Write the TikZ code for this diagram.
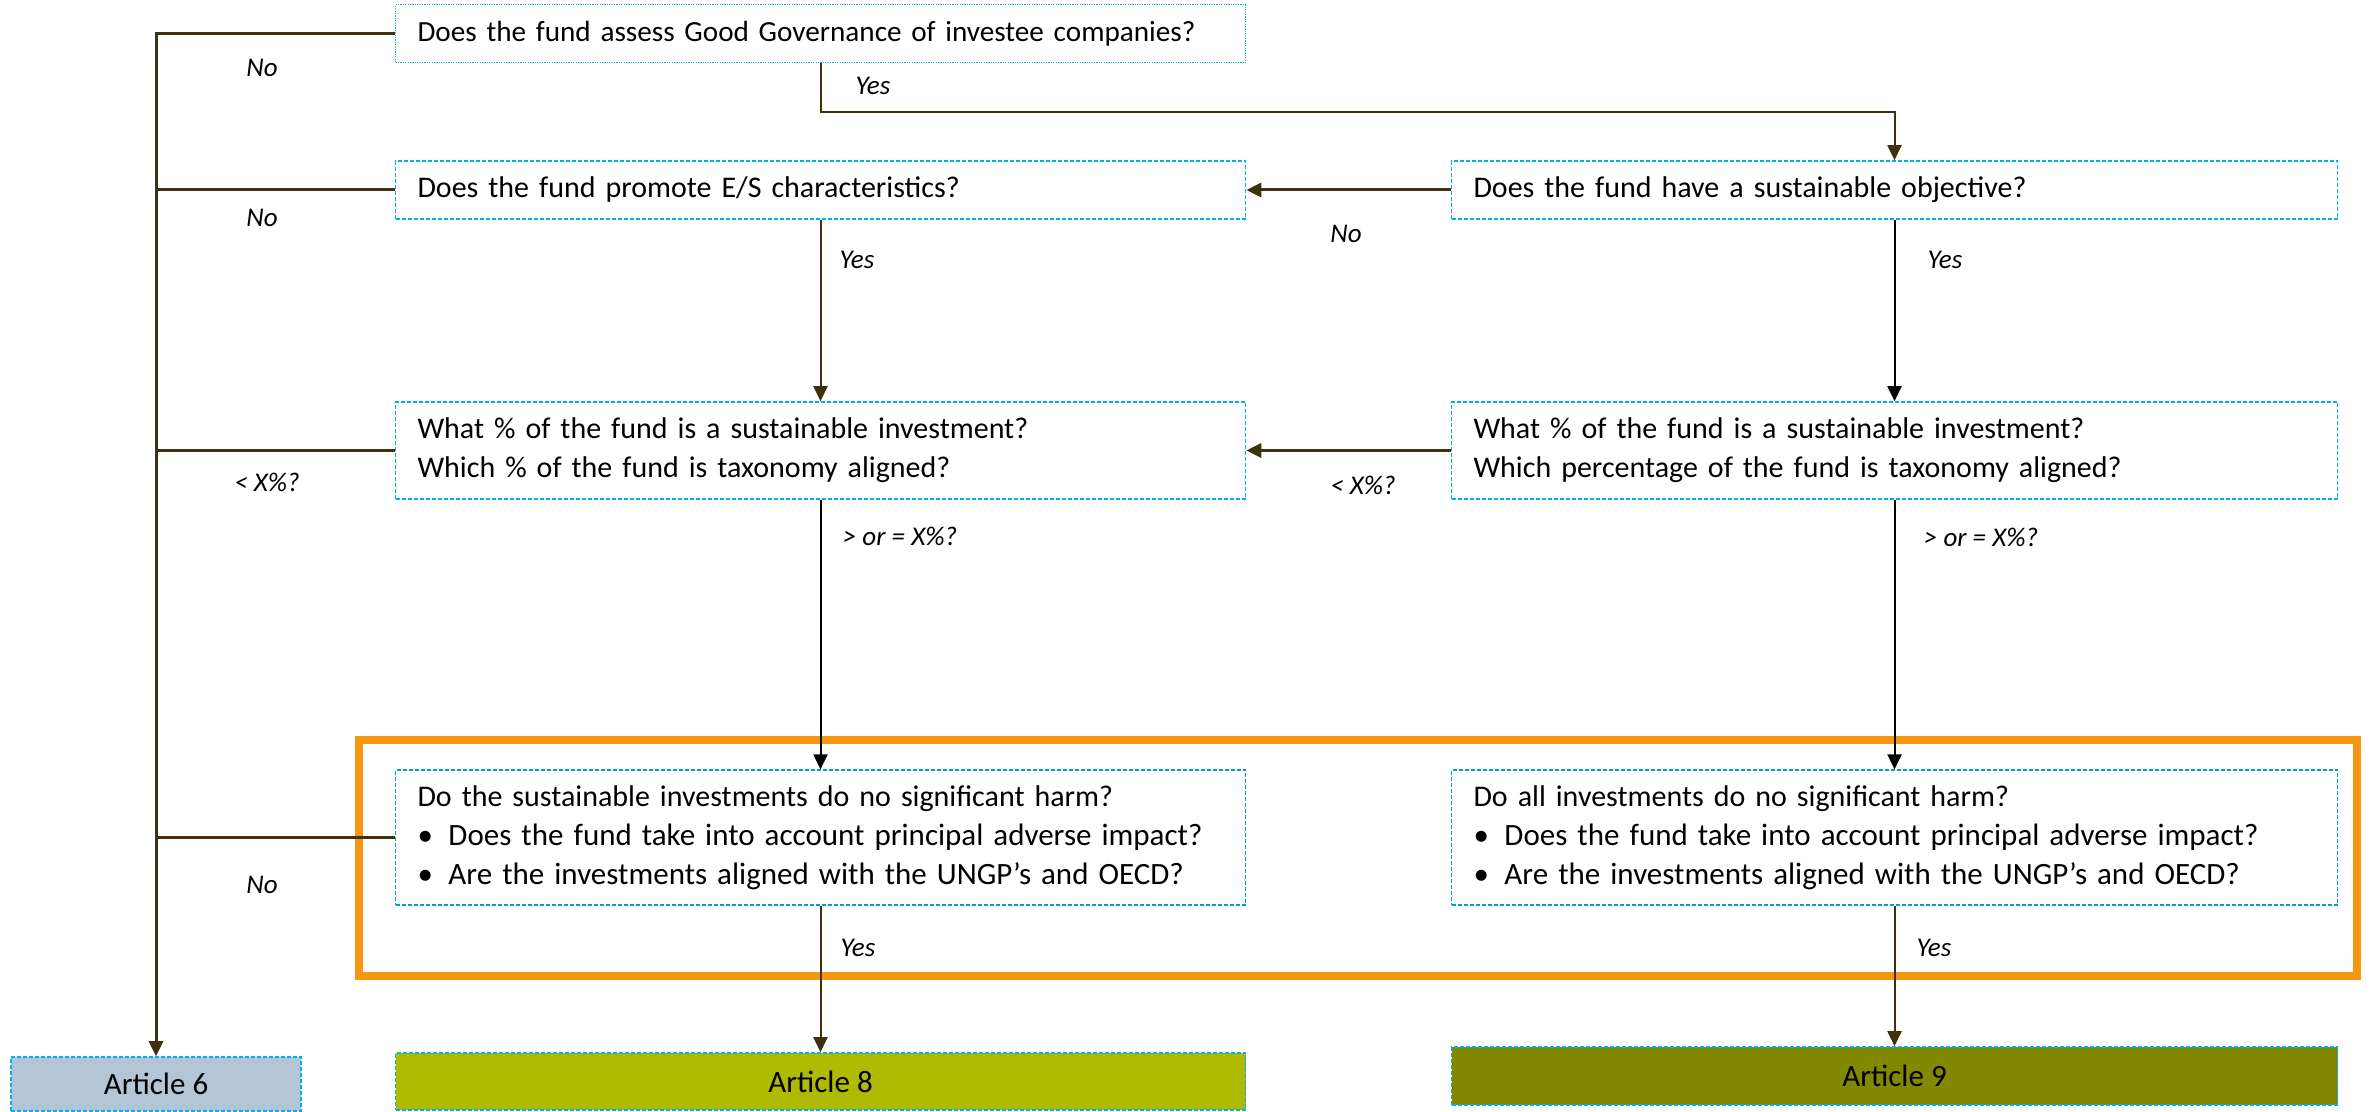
\documentclass[tikz,border=0pt]{standalone}
\usepackage{fontspec}
\setmainfont{Carlito}
\usetikzlibrary{arrows.meta,calc}
\definecolor{qblue}{RGB}{0,176,240}
\definecolor{qteal}{RGB}{0,160,198}
\definecolor{conbrown}{RGB}{64,48,16}
\definecolor{frameorange}{RGB}{247,150,17}
\definecolor{artsix}{RGB}{180,198,214}
\definecolor{arteight}{RGB}{174,187,0}
\definecolor{artnine}{RGB}{130,137,0}
\tikzset{
  qbox/.style={draw=qblue, line width=0.8pt, dash pattern=on 2pt off 1pt, fill=white,
    align=left, inner xsep=11pt, inner ysep=0pt, anchor=center,
    font=\fontsize{15pt}{19.5pt}\selectfont},
  dotbox/.style={qbox, dash pattern=on 0.6pt off 0.6pt, font=\fontsize{14.6pt}{19.5pt}\selectfont},
  dnshbox/.style={qbox, draw=qteal, dash pattern=on 2pt off 1pt},
  artbox/.style={draw=qblue, line width=0.8pt, dash pattern=on 2pt off 1pt,
    align=center, inner sep=0pt, font=\fontsize{15.5pt}{19pt}\selectfont},
  lbl/.style={font=\fontsize{13.5pt}{16pt}\selectfont\itshape, inner sep=0pt, anchor=center},
  thickcon/.style={draw=conbrown, line width=1.5pt},
  con/.style={draw=conbrown, line width=1pt},
  blackcon/.style={draw=black, line width=1pt},
  tip/.style={-{Triangle[length=7.5pt,width=7pt]}}
}
\newcommand{\bul}{\fontsize{15.5pt}{19.5pt}\selectfont\makebox[15.5pt][l]{\textbullet}}
\begin{document}
\begin{tikzpicture}[x=0.5pt,y=-0.5pt]
\useasboundingbox (0,0) rectangle (2371,1112);
% orange frame
\draw[draw=frameorange, line width=4pt] (359,740) rectangle (2357,976);
% question boxes
\node[dotbox, minimum width=425pt, minimum height=29pt, text width=403pt] (q1) at (820.5,33.7)
  {Does the fund assess Good Governance of investee companies?};
\node[qbox, minimum width=425pt, minimum height=29pt, text width=403pt] (q2) at (820.5,190)
  {Does the fund promote E/S characteristics?};
\node[qbox, minimum width=443pt, minimum height=29pt, text width=421pt] (q3) at (1894.5,190)
  {Does the fund have a sustainable objective?};
\node[qbox, minimum width=425pt, minimum height=48.5pt, text width=403pt] (q4) at (820.5,450.5)
  {What \% of the fund is a sustainable investment?\\Which \% of the fund is taxonomy aligned?};
\node[qbox, minimum width=443pt, minimum height=48.5pt, text width=421pt] (q5) at (1894.5,450.5)
  {What \% of the fund is a sustainable investment?\\Which percentage of the fund is taxonomy aligned?};
\node[dnshbox, minimum width=425pt, minimum height=67.5pt, text width=403pt] (q6) at (820.5,837.7)
  {Do the sustainable investments do no significant harm?\\\bul Does the fund take into account principal adverse impact?\\\bul Are the investments aligned with the UNGP’s and OECD?};
\node[dnshbox, minimum width=443pt, minimum height=67.5pt, text width=421pt] (q7) at (1894.5,837.7)
  {Do all investments do no significant harm?\\\bul Does the fund take into account principal adverse impact?\\\bul Are the investments aligned with the UNGP’s and OECD?};
% article boxes
\node[artbox, fill=artsix, minimum width=145pt, minimum height=27pt] (a6) at (156,1084) {Article 6};
\node[artbox, fill=arteight, minimum width=425pt, minimum height=28.5pt] (a8) at (820.5,1081.5) {Article 8};
\node[artbox, fill=artnine, minimum width=443pt, minimum height=29pt] (a9) at (1894.5,1076) {Article 9};
% connectors
\coordinate (t1) at (820.5,111.7);
\draw[thickcon, tip] (q1.west) -| (a6.north);
\draw[thickcon] (q2.west) -- (q2.west -| a6.north);
\draw[thickcon] (q4.west) -- (q4.west -| a6.north);
\draw[thickcon] (q6.west) -- (q6.west -| a6.north);
\draw[con, tip] (q1.south) -- (t1) -| (q3.north);
\draw[thickcon, tip] (q3.west) -- (q2.east);
\draw[con, tip] (q2.south) -- (q4.north);
\draw[blackcon, tip] (q3.south) -- (q5.north);
\draw[thickcon, tip] (q5.west) -- (q4.east);
\draw[blackcon, tip] (q4.south) -- (q6.north);
\draw[blackcon, tip] (q5.south) -- (q7.north);
\draw[con, tip] (q6.south) -- (a8.north);
\draw[con, tip] (q7.south) -- (a9.north);
% labels
\node[lbl] (l1) at (262,68) {No};
\node[lbl] (l2) at (873,86) {Yes};
\node[lbl] (l3) at (262,218) {No};
\node[lbl] (l4) at (1346,234) {No};
\node[lbl] (l5) at (857,260) {Yes};
\node[lbl] (l6) at (1945,260) {Yes};
\node[lbl] (l7) at (267,482) {< X\%?};
\node[lbl] (l8) at (1363,485) {< X\%?};
\node[lbl] (l9) at (900,536) {> or = X\%?};
\node[lbl] (l10) at (1981,537) {> or = X\%?};
\node[lbl] (l11) at (262,885) {No};
\node[lbl] (l12) at (858,948) {Yes};
\node[lbl] (l13) at (1934,948) {Yes};
\end{tikzpicture}
\end{document}
